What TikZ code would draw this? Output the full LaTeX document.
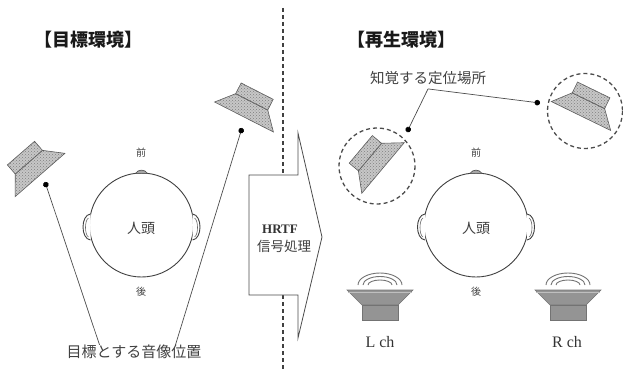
\documentclass[tikz,border=0pt]{standalone}
\usepackage{fontspec}
\setmainfont{Liberation Serif}
\newfontfamily\jpfont{Noto Sans CJK JP}
\usetikzlibrary{arrows.meta,patterns}

\tikzset{
  ink/.style={draw=black!75, line width=0.9pt},
  leader/.style={draw=black!70, line width=0.7pt, -{Circle[length=5.5pt, black]}},
  ring/.style={draw=black!70, line width=1.3pt, dash pattern=on 4pt off 3pt},
  divider/.style={draw=black!75, line width=1.3pt, dash pattern=on 4pt off 3pt},
  hatched/.style={draw=black!65, line width=0.6pt, fill=black!22,
    postaction={pattern=crosshatch dots, pattern color=black!50}},
  solidspk/.style={draw=black!55, line width=0.6pt, fill=black!42},
  wave/.style={draw=black!55, line width=0.9pt},
  jp/.style={font=\jpfont\fontsize{#1}{#1}\selectfont, text=black!75, inner sep=0pt},
  title/.style={font=\jpfont\bfseries\fontsize{18}{18}\selectfont, text=black!90, inner sep=0pt},
  roman/.style={font=\fontsize{#1}{#1}\selectfont, text=black!80, inner sep=0pt},
  % loudspeaker seen from above, front (wide side) at the origin facing +y
  tspk/.pic={
    \path[hatched] (-33,0) -- (33,0) -- (18,-17) -- (-18,-17) -- cycle;
    \path[hatched] (-18,-17) rectangle (18,-29);
  },
  % playback loudspeaker, front facing up, with sound waves
  bspk/.pic={
    \path[solidspk] (-33,0) -- (33,0) -- (18,15) -- (-18,15) -- cycle;
    \path[solidspk] (-18,15) rectangle (18,30);
    \draw[black!25, line width=0.8pt] (-32,2) -- (32,2);
    \draw[wave] (-22,-5) arc[start angle=180, end angle=360, x radius=22, y radius=12];
    \draw[wave] (-17,-5) arc[start angle=180, end angle=360, x radius=17, y radius=8.5];
    \draw[wave] (-12,-5) arc[start angle=180, end angle=360, x radius=12, y radius=5];
  },
  % listener's head seen from above
  headtop/.pic={
    \draw[ink, fill=white] (0,0) circle[radius=52];
    \draw[ink, fill=white] (-51,-11) .. controls (-61,-10) and (-61,14) .. (-51,15);
    \draw[black!60, line width=0.6pt] (-53,-7) .. controls (-57,-5) and (-57,10) .. (-53,12);
    \draw[ink, fill=white] (51,-11) .. controls (61,-10) and (61,14) .. (51,15);
    \draw[black!60, line width=0.6pt] (53,-7) .. controls (57,-5) and (57,10) .. (53,12);
    \draw[black!70, line width=0.6pt, fill=black!35] (-6,-51.6) .. controls (-3,-56) and (3,-56) .. (6,-51.6) -- cycle;
  }
}

\begin{document}
\begin{tikzpicture}[x=1pt, y=-1pt]
\useasboundingbox (0,0) rectangle (623,369);

% section titles
\node[title] (titleL) at (88,40) {【目標環境】};
\node[title] (titleR) at (401,40) {【再生環境】};

% divider between the two environments
\draw[divider] (283,8) -- (283,175);
\draw[divider] (283,295) -- (283,369);

% HRTF processing block arrow
\draw[black!70, line width=0.8pt, fill=white]
  (249,175) -- (298,175) -- (298,133) -- (322,237) -- (298,338) -- (298,295) -- (249,295) -- cycle;
\node[roman=13, font=\bfseries\fontsize{13}{13}\selectfont] (hrtf) at (280,229) {HRTF};
\node[jp=13.5] (proc) at (284,246) {信号処理};

% target environment: head and two target source positions
\pic at (141.5,225) {headtop};
\node[jp=10] (frontL) at (141,153) {前};
\node[jp=10] (backL) at (141,292) {後};
\node[jp=14] (headL) at (141,228) {人頭};

\pic[rotate=41] at (40,175) {tspk};
\pic[rotate=-27] at (244,117) {tspk};

\node[jp=15] (target) at (134,352) {目標とする音像位置};
\coordinate (dotA) at (45,182);
\coordinate (dotB) at (242,128);
\draw[leader] ([xshift=33pt]target.north west) -- (dotA);
\draw[leader] ([xshift=-26pt]target.north east) -- (dotB);

% playback environment: head, perceived positions and two loudspeakers
\pic at (476,225) {headtop};
\node[jp=10] (frontR) at (476,153) {前};
\node[jp=10] (backR) at (476,292) {後};
\node[jp=14] (headR) at (476,228) {人頭};

\draw[ring] (377,166) circle[radius=38];
\draw[ring] (585,111) circle[radius=37.5];
\pic[rotate=50] at (383,168) {tspk};
\pic[rotate=-26] at (581,116) {tspk};

\node[jp=14.5] (percept) at (428,78) {知覚する定位場所};
\coordinate (dotC) at (407,132);
\coordinate (dotD) at (540,103);
\draw[leader] ([yshift=-4pt]percept.south) -- (dotC);
\draw[leader] ([yshift=-4pt]percept.south) -- (dotD);

\pic at (380,290) {bspk};
\pic at (568,290) {bspk};
\node[roman=16] (lch) at (380,342) {L ch};
\node[roman=16] (rch) at (567,342) {R ch};
\end{tikzpicture}
\end{document}
